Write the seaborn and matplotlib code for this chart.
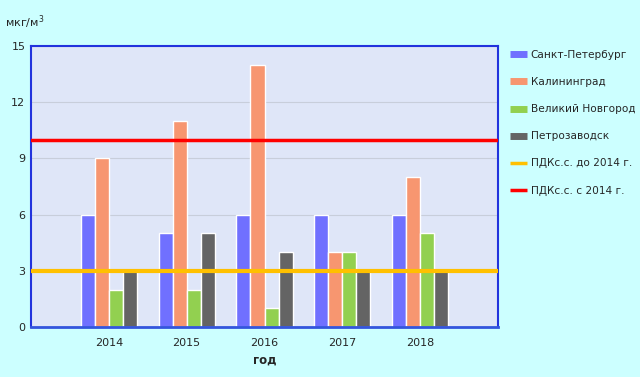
import pandas as pd
import matplotlib.pyplot as plt
import seaborn as sns
from matplotlib.lines import Line2D

# ── Data ────────────────────────────────────────────────────────────────────────
years = ["2014", "2015", "2016", "2017", "2018"]
cities = ["Санкт-Петербург", "Калининград", "Великий Новгород", "Петрозаводск"]
spb = [6, 5, 6, 6, 6]
kaliningrad = [9, 11, 14, 4, 8]
novgorod = [2, 2, 1, 4, 5]
petrozavodsk = [3, 5, 4, 3, 3]
pdk_old = 3
pdk_new = 10
yticks = [0, 3, 6, 9, 12, 15]

colors = ["#7070ff", "#f79670", "#92d050", "#646464"]

df = pd.DataFrame({
    "year": years * 4,
    "city": sum([[c] * len(years) for c in cities], []),
    "value": spb + kaliningrad + novgorod + petrozavodsk,
})

# ── Plot ────────────────────────────────────────────────────────────────────────
sns.set_style("white")
plt.rcParams["font.family"] = ["DejaVu Sans"]

fig = plt.figure(figsize=(6.4, 3.77), dpi=100, facecolor="#ccffff")
ax = fig.add_axes([31 / 640, 1 - 327 / 377, (498 - 31) / 640, (327 - 46) / 377])
ax.set_facecolor("#dfe6f8")

sns.barplot(data=df, x="year", y="value", hue="city", hue_order=cities,
            palette=colors, width=0.72, edgecolor="white", linewidth=1,
            saturation=1, legend=False, ax=ax, zorder=2)

ax.axhline(pdk_old, color="#ffc000", lw=3, zorder=3)
ax.axhline(pdk_new, color="#ff0000", lw=2.5, zorder=3)

ax.set_xlim(-1, 5)
ax.set_ylim(0, 15)
ax.set_yticks(yticks)
ax.yaxis.grid(True, color="#c8cedb", lw=0.8, zorder=0)
ax.set_axisbelow(True)
ax.tick_params(axis="both", labelsize=8, length=0, pad=4)
ax.tick_params(axis="x", length=4, color="#888888", direction="out")
ax.set_xlabel("год", fontsize=8.5, fontweight="bold", labelpad=4)
ax.set_ylabel("")
for side in ["left", "top", "right"]:
    ax.spines[side].set_color("#2233dd")
    ax.spines[side].set_linewidth(1.5)
ax.spines["bottom"].set_color("#3355dd")
ax.spines["bottom"].set_linewidth(2)

fig.text(5 / 640, 1 - 22 / 377, "мкг/м$^3$", fontsize=8, va="center", ha="left")

handles = [Line2D([0], [0], color=c, lw=5, solid_capstyle="butt") for c in colors]
handles += [Line2D([0], [0], color="#ffc000", lw=2.5, solid_capstyle="butt"),
            Line2D([0], [0], color="#ff0000", lw=2.5, solid_capstyle="butt")]
labels = cities + ["ПДКс.с. до 2014 г.", "ПДКс.с. с 2014 г."]
fig.legend(handles, labels, loc="upper left", bbox_to_anchor=(510 / 640, 1 - 50 / 377),
           frameon=False, fontsize=7.6, handlelength=1.6, handletextpad=0.35,
           labelspacing=1.62, borderaxespad=0, borderpad=0)

fig.savefig("out.png", dpi=100, facecolor=fig.get_facecolor())
